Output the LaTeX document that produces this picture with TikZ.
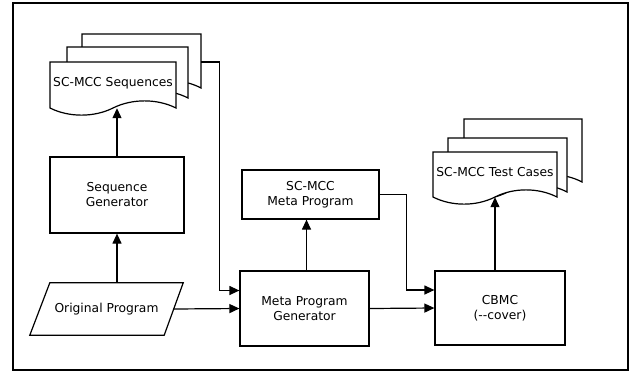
\documentclass[tikz,border=0pt]{standalone}
\usepackage{fontspec}
\setmainfont{DejaVu Sans}
\usetikzlibrary{arrows.meta,calc}
\newcommand{\docpage}[4]{%
  \filldraw[fill=white,line width=1.2pt,line join=miter]
    (#1,{#2+#4}) -- (#1,#2) -- ({#1+#3},#2) -- ({#1+#3},{#2+#4})
    .. controls ({#1+0.85*#3},{#2+#4-9.5}) and ({#1+0.65*#3},{#2+#4-9.5}) .. ({#1+0.5*#3},{#2+#4})
    .. controls ({#1+0.35*#3},{#2+#4+9.5}) and ({#1+0.15*#3},{#2+#4+9.5}) .. (#1,{#2+#4}) -- cycle;}
\begin{document}
\begin{tikzpicture}[x=1pt,y=-1pt,
  font=\fontsize{12.3}{15}\selectfont,
  box/.style={draw,line width=1.2pt,align=center,inner sep=0pt},
  doctext/.style={inner sep=0pt,text height=9pt,text depth=6pt},
  arr/.style={line width=1.2pt,-{Triangle[length=10pt,width=9pt]}}]
\useasboundingbox (0,0) rectangle (636,373);
\draw[line width=1.3pt] (13,3) rectangle (628,370);

% SC-MCC Sequences stack
\docpage{82}{34}{119}{54}
\docpage{67}{47}{121}{51}
\docpage{50}{62}{126}{46}
\node[doctext,minimum width=126pt,minimum height=46pt] (seqdoc) at (113,85) {SC-MCC Sequences};
\coordinate (seqback) at (201,62);

% SC-MCC Test Cases stack
\docpage{464}{119}{118}{63}
\docpage{448}{138}{119}{54}
\docpage{433}{152}{124}{45}
\node[doctext,minimum width=124pt,minimum height=45pt] (testdoc) at (495,174.5) {SC-MCC Test Cases};

% boxes
\node[box,minimum width=134pt,minimum height=76pt] (seqgen) at (117,195) {Sequence\\Generator};
\node[box,minimum width=129pt,minimum height=75pt] (mpg) at (304.5,308.5) {Meta Program\\Generator};
\node[box,minimum width=137pt,minimum height=49pt] (metaprog) at (310.5,194.5) {SC-MCC\\Meta Program};
\node[box,minimum width=130pt,minimum height=74pt] (cbmc) at (500,308) {CBMC\\(-{}-cover)};

% original program (parallelogram)
\node[inner sep=0pt,minimum width=153pt,minimum height=52pt] (origprog) at (106.5,309) {Original Program};
\draw[line width=1.2pt,line join=miter]
  ($(origprog.north west)+(20,0)$) -- (origprog.north east)
  -- ($(origprog.south east)+(-19,0)$) -- (origprog.south west) -- cycle;

% connectors
\draw[arr] (seqgen.south |- origprog.north) -- (seqgen.south);
\draw[arr] (seqgen.north) -- (seqgen.north |- seqdoc.south);
\draw[arr] ($(origprog.east)+(-9.5,0)$) -- (mpg.west);
\draw[arr] (seqback) -| ($(mpg.west)+(-20,-18)$) -- ($(mpg.west)+(0,-18)$);
\coordinate (mpgtop) at ($(mpg.north)+(2,0)$);
\draw[arr] (mpgtop) -- (mpgtop |- metaprog.south);
\draw[arr] (metaprog.east) -| ($(cbmc.west)+(-28,-18)$) -- ($(cbmc.west)+(0,-18)$);
\draw[arr] (mpg.east) -- (cbmc.west);
\draw[arr] (testdoc.south |- cbmc.north) -- (testdoc.south);
\end{tikzpicture}
\end{document}
